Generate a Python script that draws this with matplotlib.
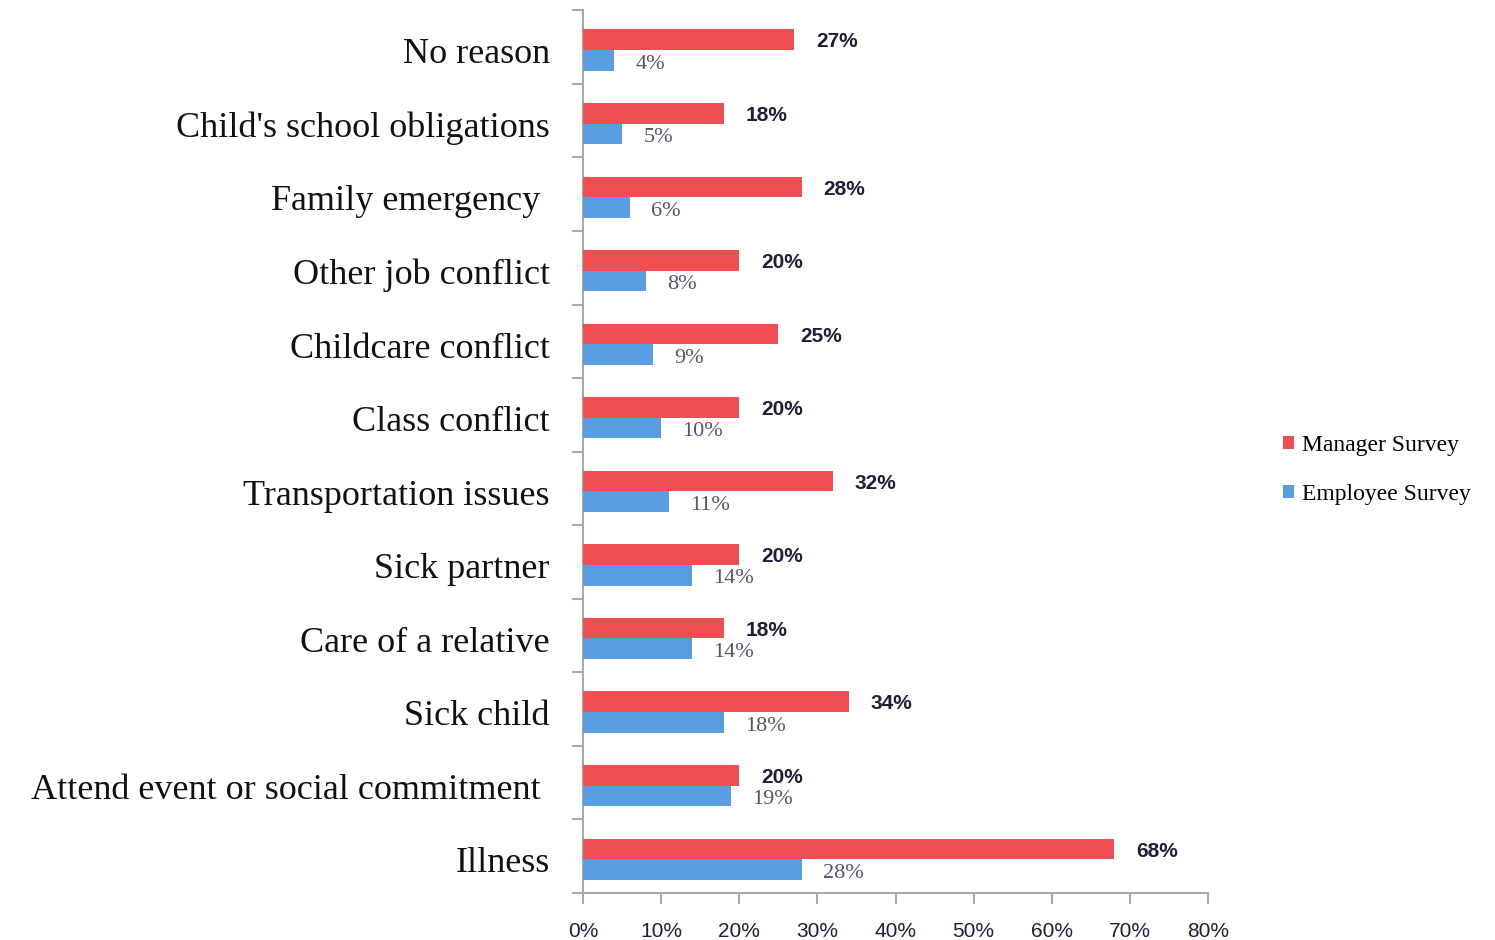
import numpy as np
import matplotlib
matplotlib.use("Agg")
import matplotlib.pyplot as plt

reasons = ["No reason", "Child's school obligations", "Family emergency ",
           "Other job conflict", "Childcare conflict", "Class conflict",
           "Transportation issues", "Sick partner", "Care of a relative",
           "Sick child", "Attend event or social commitment ", "Illness"]
manager = [27, 18, 28, 20, 25, 20, 32, 20, 18, 34, 20, 68]
employee = [4, 5, 6, 8, 9, 10, 11, 14, 14, 18, 19, 28]

red = "#ef4f52"
blue = "#5b9de3"
serif = "Liberation Serif"
sans = "Liberation Sans"

fig = plt.figure(figsize=(14.95, 9.4), dpi=100)
ax = fig.add_axes([0.39, 0.05, 0.418, 0.939])

y = np.arange(len(reasons))
h = 0.28
ax.barh(y - 0.1, manager, height=h, color=red, label="Manager Survey", zorder=3)
ax.barh(y + 0.18, employee, height=h, color=blue, label="Employee Survey", zorder=3)

for i in range(len(reasons)):
    ax.text(manager[i] + 2.8, y[i] - 0.07, f"{manager[i]}%", fontsize=15,
            family=sans, fontweight="bold", color="#1f1f3a", va="center")
    ax.text(employee[i] + 2.7, y[i] + 0.23, f"{employee[i]}%", fontsize=16,
            family=serif, color="#55556a", va="center")

ax.set_ylim(len(reasons) - 0.5, -0.5)
ax.set_xlim(0, 80)
ax.set_yticks(y + 0.05)
ax.set_yticklabels(reasons, family=serif, fontsize=26, color="#111111")
ax.tick_params(axis="y", which="major", length=0, pad=24)
ax.set_yticks(np.arange(len(reasons) + 1) - 0.5, minor=True)
ax.tick_params(axis="y", which="minor", length=8, color="#aaaaaa", width=1.5)

ax.set_xticks(np.arange(0, 81, 10))
ax.set_xticklabels([f"{v}%" for v in range(0, 81, 10)], family=sans, fontsize=15,
                   color="#1f1f3a")
ax.tick_params(axis="x", length=8, color="#aaaaaa", width=1.5, pad=13)

for s in ["top", "right"]:
    ax.spines[s].set_visible(False)
for s in ["left", "bottom"]:
    ax.spines[s].set_color("#aaaaaa")
    ax.spines[s].set_linewidth(1.5)

fig.legend(loc="center left", bbox_to_anchor=(0.844, 0.5), frameon=False,
           prop={"family": serif, "size": 17}, handlelength=0.45, handleheight=0.45,
           handletextpad=0.35, labelspacing=1.2)

fig.savefig("out.png", dpi=100)
